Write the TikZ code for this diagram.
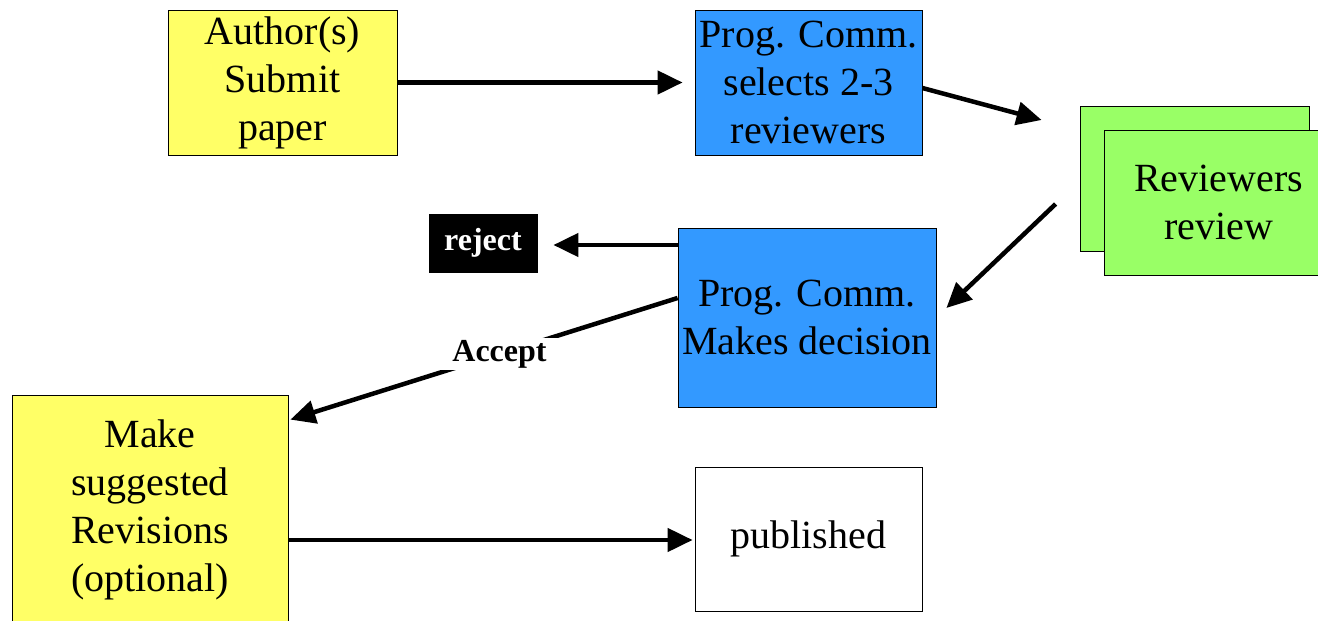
\documentclass[tikz,border=0pt]{standalone}
\usepackage{fontspec}
\setmainfont{Liberation Serif}
\usetikzlibrary{arrows.meta}
\definecolor{boxyellow}{HTML}{FFFF66}
\definecolor{boxblue}{HTML}{3399FF}
\definecolor{boxgreen}{HTML}{99FF66}
\begin{document}
\begin{tikzpicture}[x=1pt,y=-1pt,
    box/.style={draw=black,line width=0.8pt,inner sep=0pt,align=center,
      font=\fontsize{40}{48}\selectfont},
    flow/.style={line width=4.5pt,-{Triangle[length=25pt,width=23pt]}}]
      \useasboundingbox (0,0) rectangle (1318,621);
      %boxes
      \node[box,fill=boxyellow,minimum width=229,minimum height=145] (author) at (282.5,82.5) {Author(s)\\Submit\\paper};
      \node[box,fill=boxblue,minimum width=227,minimum height=145] (select) at (808.5,82.5) {Prog. Comm.\\selects 2-3\\reviewers};
      \node[box,fill=boxgreen,minimum width=229,minimum height=145] (revback) at (1194.5,178.5) {};
      \node[box,fill=boxgreen,minimum width=229,minimum height=145] (revfront) at (1218.5,202.5) {Reviewers\\review};
      \node[box,fill=black,text=white,minimum width=108,minimum height=58,
        font=\fontsize{32}{38}\selectfont\bfseries] (reject) at (483,243) {reject};
      \node[box,fill=boxblue,minimum width=258,minimum height=179] (decide) at (807,317.5) {Prog. Comm.\\Makes decision};
      \node[box,fill=boxyellow,minimum width=276,minimum height=230] (revise) at (150,510) {Make\\suggested\\Revisions\\(optional)};
      \node[box,fill=white,minimum width=227,minimum height=144] (published) at (808.5,539) {published};
      %arrows
      \draw[flow] (author.east) -- ([xshift=-12pt]select.west);
      \draw[flow] ([yshift=-5.5pt]select.east) -- ([xshift=-38pt,yshift=58.5pt]revback.west);
      \draw[flow] ([xshift=-24pt,yshift=-25.5pt]revback.west) -- ([xshift=10pt,yshift=9.5pt]decide.east);
      \draw[flow] ([yshift=72.5pt]decide.west) -- ([xshift=16pt,yshift=-2pt]reject.east);
      \draw[flow] ([yshift=19.5pt]decide.west) -- node[pos=0.46,fill=white,inner xsep=20pt,inner ysep=2pt,
        font=\fontsize{32}{38}\selectfont\bfseries] (accept) {Accept} ([xshift=2pt,yshift=-25pt]revise.north east);
      \draw[flow] ([yshift=-30pt]revise.east) -- ([xshift=-2pt,yshift=-1pt]published.west);
\end{tikzpicture}
\end{document}
